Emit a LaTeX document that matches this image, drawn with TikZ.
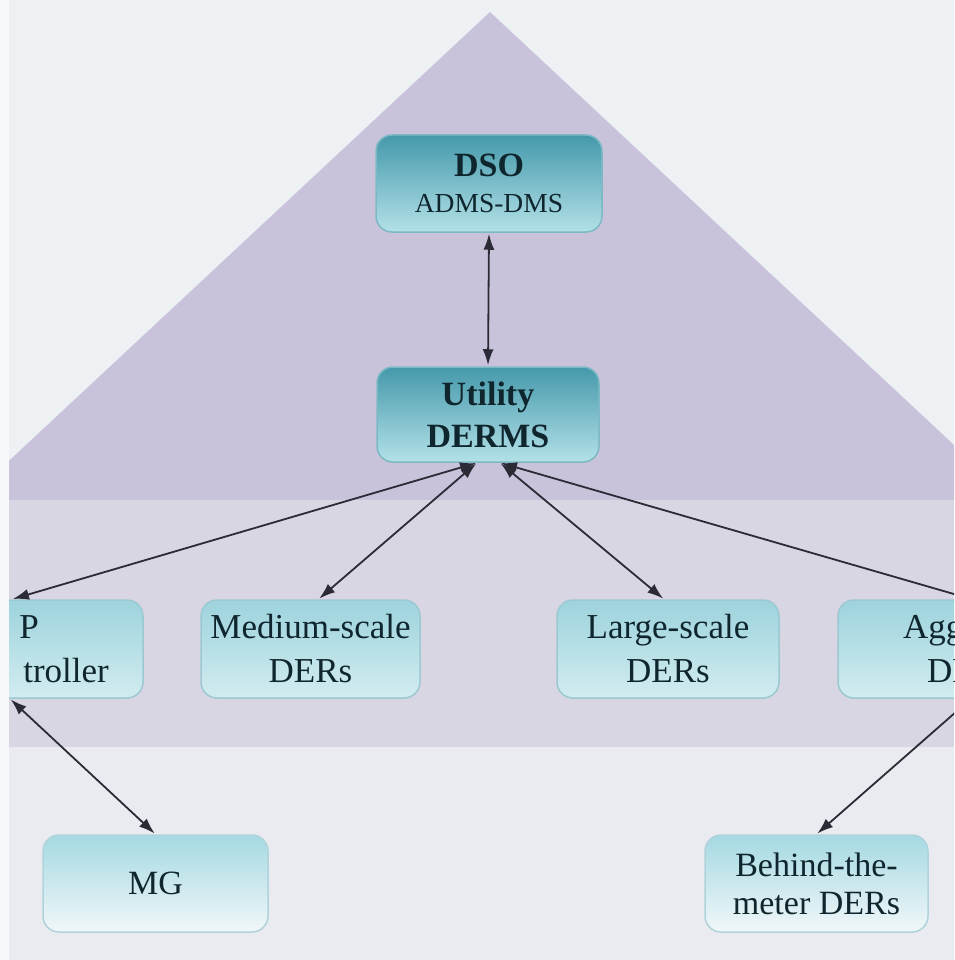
\documentclass[tikz,border=0pt]{standalone}
\usepackage{fontspec}
\setmainfont{Liberation Serif}
\usetikzlibrary{arrows.meta}
\definecolor{stripc}{HTML}{F6F8FA}
\definecolor{bgtop}{HTML}{EEF1F4}
\definecolor{tric}{HTML}{C9C2DB}
\definecolor{bandc}{HTML}{D9D6E3}
\definecolor{lowc}{HTML}{E9EBF0}
\definecolor{topA}{HTML}{4599AB}
\definecolor{topB}{HTML}{B3E1E8}
\definecolor{topD}{HTML}{7DB9C5}
\definecolor{midA}{HTML}{9DD3DD}
\definecolor{midB}{HTML}{D2ECF0}
\definecolor{midD}{HTML}{9CC8D1}
\definecolor{lowA}{HTML}{A5D9E2}
\definecolor{lowB}{HTML}{F1F7F9}
\definecolor{lowD}{HTML}{B0D3DA}
\definecolor{txt}{HTML}{10262E}
\definecolor{arr}{HTML}{2B2B36}
\tikzset{
  boxbase/.style={rounded corners=16pt, line width=1.5pt, align=center, text=txt, inner sep=0pt},
  topbox/.style={boxbase, top color=topA, bottom color=topB, draw=topD},
  midbox/.style={boxbase, top color=midA, bottom color=midB, draw=midD,
    font=\fontsize{35}{44}\selectfont, minimum height=98pt},
  lowbox/.style={boxbase, top color=lowA, bottom color=lowB, draw=lowD,
    font=\fontsize{34}{38}\selectfont, minimum height=97pt},
  frag/.style={text=txt, inner sep=0pt, font=\fontsize{35}{44}\selectfont},
  link/.style={{Latex[length=16pt,width=11pt]}-{Latex[length=16pt,width=11pt]}, draw=arr, line width=1.8pt, shorten <=1pt, shorten >=1pt}
}
\begin{document}
\begin{tikzpicture}[x=1pt,y=-1pt]
\useasboundingbox (0,0) rectangle (954,960);
\fill[stripc] (0,0) rectangle (954,960);
\begin{scope}
\clip (9,0) rectangle (954,960);
\fill[bgtop] (9,0) rectangle (954,500);
\fill[tric] (490,12) -- (1013,500) -- (-33,500) -- cycle;
\fill[bandc] (9,500) rectangle (954,747);
\fill[lowc] (9,747) rectangle (954,960);

\node[topbox, minimum width=226pt, minimum height=97pt, font=\fontsize{34}{36}\selectfont] (dso) at (489,183.5)
  {{\bfseries DSO}\\{\fontsize{27.5}{36}\selectfont ADMS-DMS}};
\node[topbox, minimum width=222pt, minimum height=95pt, font=\bfseries\fontsize{34}{42}\selectfont] (util) at (488,414.5)
  {Utility\\DERMS};

\node[midbox, minimum width=222pt] (ctl) at (32,649) {};
\node[frag, anchor=base east] (ctlA) at (39,638) {P};
\node[frag, anchor=base east] (ctlB) at (109,682) {troller};
\node[midbox, minimum width=219pt] (med) at (310.5,649) {Medium-scale\\DERs};
\node[midbox, minimum width=222pt] (large) at (668,649) {Large-scale\\DERs};
\node[midbox, minimum width=222pt] (agg) at (949,649) {};
\node[frag, anchor=base west] (aggA) at (903,638) {Agg};
\node[frag, anchor=base west] (aggB) at (927,682) {DE};

\node[lowbox, minimum width=225pt] (mg) at (155.5,883.5) {MG};
\node[lowbox, minimum width=223pt] (btm) at (816.5,883.5) {Behind-the-\\meter DERs};

\draw[link] (dso.south) -- (util.north);
\draw[link] ([xshift=-11pt]util.south) -- ([xshift=-20pt]ctl.north);
\draw[link] ([xshift=-11pt]util.south) -- ([xshift=8pt]med.north);
\draw[link] ([xshift=12pt]util.south) -- ([xshift=-4pt]large.north);
\draw[link] ([xshift=12pt]util.south) -- ([xshift=23pt]agg.north);
\draw[link] ([xshift=-22pt]ctl.south) -- (mg.north);
\draw[link] ([xshift=22pt]agg.south) -- (btm.north);
\end{scope}
\end{tikzpicture}
\end{document}
